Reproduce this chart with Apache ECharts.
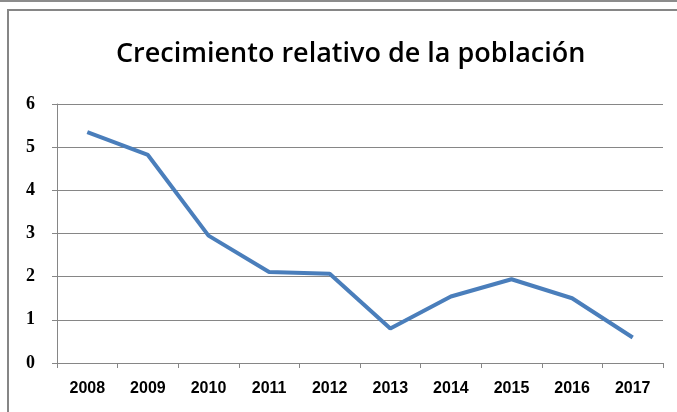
<!DOCTYPE html>
<html>
<head>
<meta charset="utf-8">
<script src="https://cdn.jsdelivr.net/npm/echarts@6/dist/echarts.min.js"></script>
<style>
  html, body { margin: 0; padding: 0; background: #fff; }
  #main { width: 677px; height: 412px; }
</style>
</head>
<body>
<div id="main"></div>
<script>
var years = ['2008', '2009', '2010', '2011', '2012', '2013', '2014', '2015', '2016', '2017'];
var crecimiento = [5.35, 4.82, 2.95, 2.11, 2.07, 0.8, 1.54, 1.94, 1.5, 0.59];
var yTicks = [0, 1, 2, 3, 4, 5, 6];

var myChart = echarts.init(document.getElementById('main'));
var option = {
	animation: false,
	backgroundColor: '#fff',
	title: {
		text: 'Crecimiento relativo de la población',
		left: 111,
		top: 36,
		textStyle: {
			fontFamily: 'Open Sans',
			fontWeight: 600,
			fontSize: 27,
			color: '#000'
		}
	},
	// marco del gráfico
	graphic: [{
		type: 'rect',
		shape: { x: 0, y: 0, width: 677, height: 2 },
		style: { fill: '#8c8c8c' }
	}, {
		type: 'rect',
		shape: { x: 8, y: 10, width: 680, height: 420 },
		style: { fill: 'none', stroke: '#868686', lineWidth: 2 }
	}],
	grid: {
		left: 57,
		right: 14,
		top: 104,
		bottom: 49
	},
	xAxis: {
		type: 'category',
		data: years,
		boundaryGap: true,
		axisLine: { lineStyle: { color: '#868686', width: 1 } },
		axisTick: { show: true, length: 5, lineStyle: { color: '#868686' } },
		axisLabel: {
			color: '#000',
			fontFamily: 'Liberation Sans',
			fontWeight: 'bold',
			fontSize: 16,
			margin: 18
		}
	},
	yAxis: {
		type: 'value',
		min: yTicks[0],
		max: yTicks[yTicks.length - 1],
		interval: 1,
		axisLine: { show: true, lineStyle: { color: '#868686', width: 1 } },
		axisTick: { show: true, length: 5, lineStyle: { color: '#868686' } },
		axisLabel: {
			color: '#000',
			fontFamily: 'Liberation Serif',
			fontWeight: 'bold',
			fontSize: 18,
			margin: 22
		},
		splitLine: { lineStyle: { color: '#868686', width: 1 } }
	},
	series: [{
		name: 'Crecimiento',
		type: 'line',
		data: crecimiento,
		symbol: 'none',
		lineStyle: { color: '#4a7ebb', width: 4 }
	}]
};
myChart.setOption(option);
</script>
</body>
</html>
